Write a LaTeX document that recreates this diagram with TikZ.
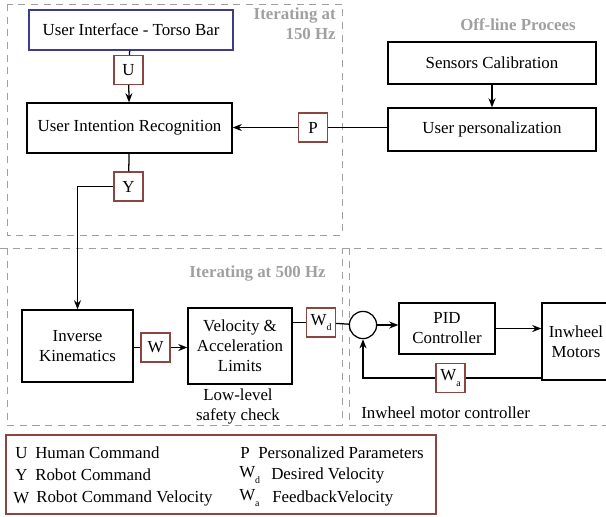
\documentclass[tikz,border=0pt]{standalone}
\usepackage{fontspec}
\setmainfont{Liberation Serif}
\usepackage{xcolor}
\usetikzlibrary{arrows.meta}
\definecolor{sigred}{RGB}{140,70,65}
\definecolor{uiblue}{RGB}{60,60,140}
\definecolor{zonegray}{RGB}{160,160,160}
\tikzset{block/.style={draw,inner sep=0pt,align=center,line width=0.9pt},
 sig/.style={draw=sigred,inner sep=0pt,line width=0.9pt,minimum width=0.72cm,minimum height=0.72cm},
 zone/.style={draw=zonegray,dash pattern=on 5pt off 4pt,line width=0.7pt},
 zonetext/.style={text=zonegray,font=\fontsize{12}{14.2}\selectfont\bfseries,align=right,inner sep=0pt},
 plain/.style={inner sep=0pt,align=center},
 link/.style={line width=0.9pt},
 >={Stealth[length=6.5pt,width=5pt]},
 }
\newcommand{\Wsub}[1]{W\raisebox{-0.7ex}{\scriptsize #1}}

\begin{document}
\begin{tikzpicture}[x=0.025cm,y=-0.025cm,font=\fontsize{12}{14.2}\selectfont]
        \useasboundingbox (0,0) rectangle (606,516);
        % zones
        \draw[zone] (7,4) rectangle (342,235);
        \draw[zone] (0,248) -- (606,248);
        \draw[zone] (7,248) -- (7,425) -- (342,425) -- (342,248);
        \draw[zone] (349,248) -- (349,425) -- (612,425);
        \node[zonetext,anchor=north east] at (336,8) {Iterating at\\150 Hz};
        \node[zonetext] (offl) at (518,25) {Off-line Procees};
        \node[zonetext,anchor=east] at (326,273) {Iterating at 500 Hz};
        % blocks
        \node[block,draw=uiblue,minimum width=5.1cm,minimum height=1cm] (ui) at (131,30) {User Interface - Torso Bar};
        \node[block,minimum width=5.125cm,minimum height=1.25cm] (uir) at (129.5,128) {User Intention Recognition};
        \node[block,minimum width=5.2cm,minimum height=1.05cm] (sc) at (492,63) {Sensors Calibration};
        \node[block,minimum width=5.2cm,minimum height=1.075cm] (up) at (492,129.5) {User personalization};
        \node[block,minimum width=2.775cm,minimum height=1.8cm] (ik) at (77.5,346) {Inverse\\Kinematics};
        \node[block,minimum width=2.6cm,minimum height=1.9cm] (val) at (240,346) {Velocity \&\\Acceleration\\Limits};
        \node[block,minimum width=2.4cm,minimum height=1.275cm] (pid) at (447,328.5) {PID\\Controller};
        \node[block,minimum width=1.7cm,minimum height=1.925cm] (mot) at (576,341.5) {Inwheel\\Motors};
        \node[draw,circle,line width=0.9pt,minimum size=0.68cm,inner sep=0pt] (sum) at (363,325) {};
        % signals
        \node[sig] (sigU) at (128.5,70) {U};
        \node[sig] (sigP) at (313,127.5) {P};
        \node[sig] (sigY) at (128.5,186.5) {Y};
        \node[sig] (sigW) at (155.5,347.5) {W};
        \node[sig] (sigWd) at (321,322.5) {\Wsub{d}};
        \node[sig] (sigWa) at (450.5,378) {\Wsub{a}};
        % notes
        \node[plain] (lowlvl) at (238,406) {Low-level\\safety check};
        \node[plain,anchor=west] (imc) at (361,413) {Inwheel motor controller};
        % connections
        \draw[link] (ui) -- (sigU);
        \draw[link,->] (sigU) -- (uir);
        \draw[link,->] (sc) -- (up);
        \draw[link] (up.west |- sigP) -- (sigP);
        \draw[link,->] (sigP) -- (sigP -| uir.east);
        \draw[link] (uir) -- (sigY);
        \draw[link,->] (sigY.west) -| (ik.north);
        \draw[link] (ik.east |- sigW) -- (sigW);
        \draw[link,->] (sigW) -- (sigW -| val.west);
        \draw[link] (val.east |- sigWd) -- (sigWd);
        \draw[link] (sigWd) -- (sum);
        \draw[link,->] (sum.east) -- (sum.east -| pid.west);
        \draw[link,->] (pid) -- (pid -| mot.west);
        \draw[link] (mot.west |- sigWa) -- (sigWa);
        \draw[link,->] (sigWa) -| (sum.south);
        % legend
        \draw[draw=sigred,line width=0.9pt] (6,435) rectangle (436,514);
        \node[plain,anchor=west] (lgU) at (15,453) {U};
        \node[plain,anchor=west] (lgY) at (15,475) {Y};
        \node[plain,anchor=west] (lgW) at (13,498) {W};
        \node[plain,anchor=west] at (35,453) {Human Command};
        \node[plain,anchor=west] at (35,475) {Robot Command};
        \node[plain,anchor=west] at (36,498) {Robot Command Velocity};
        \node[plain,anchor=west] (lgP) at (240,453) {P};
        \node[plain,anchor=west] (lgWd) at (239,475) {\Wsub{d}};
        \node[plain,anchor=west] (lgWa) at (239,498) {\Wsub{a}};
        \node[plain,anchor=west] at (258,453) {Personalized Parameters};
        \node[plain,anchor=west] at (271,475) {Desired Velocity};
        \node[plain,anchor=west] at (272,498) {FeedbackVelocity};
    \end{tikzpicture}
\end{document}
